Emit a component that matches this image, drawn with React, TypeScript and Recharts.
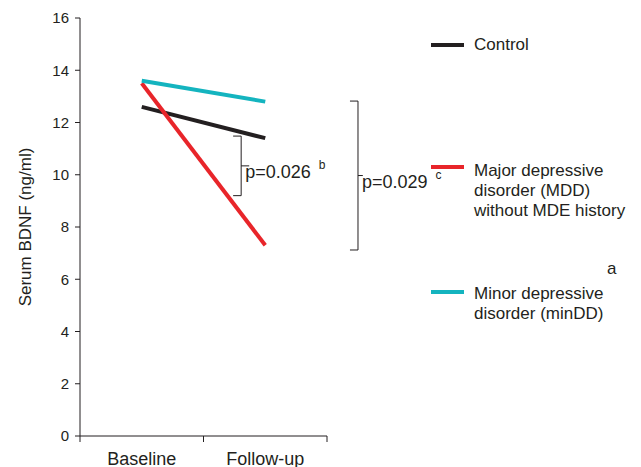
import React from 'react';
import { LineChart, Line, XAxis, YAxis, ReferenceLine } from 'recharts';

const categories = ['Baseline', 'Follow-up'];
const control = [12.6, 11.4];
const mdd = [13.5, 7.3];
const minDD = [13.6, 12.8];
const yTicks = [0, 2, 4, 6, 8, 10, 12, 14, 16];

// significance brackets: value range spanned + label
const brackets = [
  { low: 9.2, high: 11.48, text: 'p=0.026', sup: 'b' },
  { low: 7.12, high: 12.82, text: 'p=0.029', sup: 'c' },
];

const legendItems = [
  { name: 'Control', color: '#231f20', lines: ['Control'] },
  { name: 'mdd', color: '#e8252a', lines: ['Major depressive', 'disorder (MDD)', 'without MDE history'] },
  { name: 'minDD', color: '#14b4bf', lines: ['Minor depressive', 'disorder (minDD)'] },
];

const data = categories.map((c, i) => ({
  x: i + 0.5,
  name: c,
  control: control[i],
  mdd: mdd[i],
  minDD: minDD[i],
}));

const FONT = '"Liberation Sans", Arial, sans-serif';
const INK = '#231f20';

// bracket horizontal placement (x-axis units)
const bracketX = [
  { left: 1.24, mid: 1.305, apex: 1.37 },
  { left: 2.186, mid: 2.251, apex: 2.29 },
];

const XTick = (props: any) => {
  const { x, y, payload } = props;
  const v = payload.value;
  if (Number.isInteger(v)) {
    return <line x1={x} y1={y} x2={x} y2={y + 6} stroke={INK} strokeWidth={1} />;
  }
  const label = categories[Math.floor(v)];
  return (
    <text x={x} y={y + 29} textAnchor="middle" fontSize={18} fill={INK} fontFamily={FONT}>
      {label}
    </text>
  );
};

const bracketLabel = (text: string, sup: string) => (props: any) => {
  const vb = props.viewBox || {};
  return (
    <text x={(vb.x || 0) + 4} y={(vb.y || 0) + 12.5} fontSize={18} fill={INK} fontFamily={FONT}>
      {text}
      <tspan dx={8} dy={-9} fontSize={12}>{sup}</tspan>
    </text>
  );
};

export default function App() {
  return (
    <div style={{ position: 'absolute', left: 0, top: 0, width: 641, height: 467, background: '#fff', fontFamily: FONT }}>
      <LineChart width={641} height={467} data={data} margin={{ top: 18, right: 314, bottom: 0, left: 0 }}>
        <XAxis
          type="number"
          dataKey="x"
          domain={[0, 2]}
          ticks={[0, 0.5, 1, 1.5, 2]}
          tickLine={false}
          tickSize={0}
          tickMargin={0}
          tick={<XTick />}
          height={31}
          axisLine={{ stroke: INK }}
          interval={0}
        />
        <YAxis
          type="number"
          domain={[0, 16]}
          ticks={yTicks}
          width={80}
          tickSize={5}
          tickMargin={6}
          tick={{ fontSize: 15, fill: INK, fontFamily: FONT }}
          axisLine={{ stroke: INK }}
          tickLine={{ stroke: INK }}
          interval={0}
          label={{
            value: 'Serum BDNF (ng/ml)',
            angle: -90,
            position: 'insideLeft',
            offset: 25,
            fontSize: 17,
            fill: INK,
            fontFamily: FONT,
            style: { textAnchor: 'middle' },
          }}
        />
        <Line type="linear" dataKey="control" stroke="#231f20" strokeWidth={4} dot={false} isAnimationActive={false} />
        <Line type="linear" dataKey="mdd" stroke="#e8252a" strokeWidth={4} dot={false} isAnimationActive={false} />
        <Line type="linear" dataKey="minDD" stroke="#14b4bf" strokeWidth={4} dot={false} isAnimationActive={false} />
        {brackets.map((b, i) => {
          const bx = bracketX[i];
          const mid = (b.low + b.high) / 2;
          const common = { stroke: INK, strokeWidth: 1, ifOverflow: 'visible' as const };
          return (
            <React.Fragment key={i}>
              <ReferenceLine {...common} segment={[{ x: bx.left, y: b.high }, { x: bx.mid, y: b.high }]} />
              <ReferenceLine {...common} segment={[{ x: bx.mid, y: b.high }, { x: bx.mid, y: b.low }]} />
              <ReferenceLine {...common} segment={[{ x: bx.left, y: b.low }, { x: bx.mid, y: b.low }]} />
              <ReferenceLine
                {...common}
                segment={[{ x: bx.mid, y: mid }, { x: bx.apex, y: mid }]}
                label={bracketLabel(b.text, b.sup)}
              />
            </React.Fragment>
          );
        })}
      </LineChart>
      {legendItems.map((item, i) => {
        const tops = [35, 157, 282];
        return (
          <div key={item.name} style={{ position: 'absolute', left: 431, top: tops[i], fontSize: 17, lineHeight: '20px', color: INK }}>
            <div style={{ position: 'absolute', left: 0, top: 8, width: 33, height: 4, background: item.color }} />
            <div style={{ position: 'absolute', left: 43, top: i === 1 ? 4 : i === 2 ? 2 : 0, whiteSpace: 'nowrap' }}>
              {item.lines.map((l) => (
                <div key={l}>{l}</div>
              ))}
            </div>
          </div>
        );
      })}
      <div style={{ position: 'absolute', left: 607, top: 259, fontSize: 17, lineHeight: '20px', color: INK }}>a</div>
    </div>
  );
}
